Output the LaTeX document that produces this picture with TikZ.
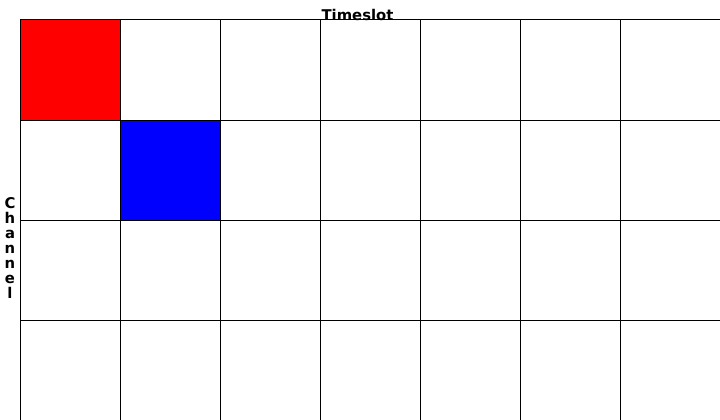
\documentclass[tikz,border=0pt]{standalone}
\usepackage{fontspec}
\setmainfont{DejaVu Sans}
\begin{document}
\begin{tikzpicture}[x=1pt,y=-1pt,
  gridline/.style={draw=black,line width=1pt},
  lbl/.style={font=\bfseries\fontsize{14.8}{15}\selectfont,inner sep=0pt}]
\useasboundingbox (0,0) rectangle (720,420);
\fill[red] (20,20) rectangle (120,120);
\fill[blue] (120,120) rectangle (220,220);
\foreach \x in {20,120,...,620} \draw[gridline] (\x,20) -- (\x,420);
\foreach \y in {20,120,220,320} \draw[gridline] (20,\y) -- (720,\y);
\node[lbl,anchor=base] (title) at (357.5,20.5) {Timeslot};
\node[lbl,align=center,anchor=north] (chan) at (10,197) {C\\h\\a\\n\\n\\e\\l};
\end{tikzpicture}
\end{document}
